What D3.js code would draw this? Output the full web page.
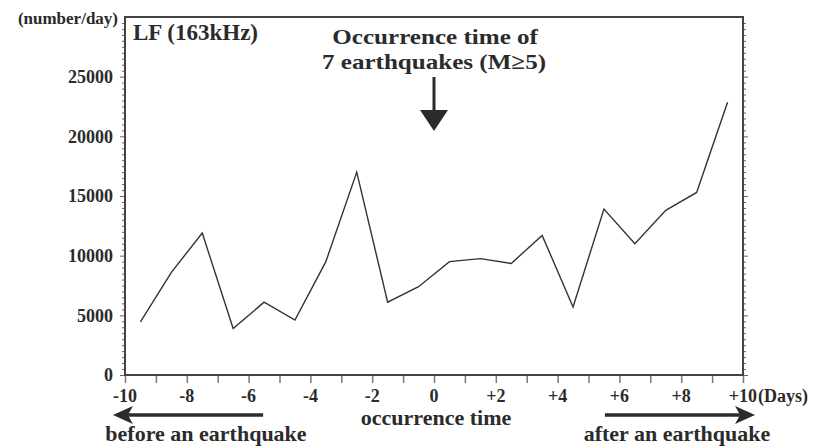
<!DOCTYPE html>
<html>
<head>
<meta charset="utf-8">
<script src="https://cdn.jsdelivr.net/npm/d3@7/dist/d3.min.js"></script>
<style>
  html, body { margin: 0; padding: 0; background: #fff; }
  svg { display: block; }
  text { font-family: "Liberation Serif", "Times New Roman", serif; font-weight: bold; fill: #2b2b2b; }
</style>
</head>
<body>
<svg id="chart" width="814" height="448"></svg>
<script>
// Daily LF (163 kHz) counts around the occurrence time of 7 earthquakes (M>=5)
const days = [-9.5, -8.5, -7.5, -6.5, -5.5, -4.5, -3.5, -2.5, -1.5, -0.5,
               0.5,  1.5,  2.5,  3.5,  4.5,  5.5,  6.5,  7.5,  8.5,  9.5];
const counts = [4450, 8600, 11900, 3900, 6100, 4600, 9500, 17000, 6100, 7400,
                9500, 9750, 9350, 11700, 5700, 13900, 11000, 13800, 15300, 22850];
const xTickValues = [-10, -8, -6, -4, -2, 0, 2, 4, 6, 8, 10];
const xTickLabels = ["-10", "-8", "-6", "-4", "-2", "0", "+2", "+4", "+6", "+8", "+10"];
const yTickValues = [0, 5000, 10000, 15000, 20000, 25000];

const svg = d3.select("#chart");
const plotLeft = 125, plotRight = 743, plotTop = 17, plotBottom = 375;
const axisColor = "#444";
const ink = "#2b2b2b";

const x = d3.scaleLinear().domain([-10, 10]).range([plotLeft, plotRight]);
const y = d3.scaleLinear().domain([0, 30000]).range([plotBottom, plotTop]);

// Bottom axis: a tick each day, labels every two days
const xAxis = d3.axisBottom(x).tickValues(d3.range(-10, 11)).tickSize(8).tickFormat("");
const gx = svg.append("g").attr("transform", `translate(0,${plotBottom})`).call(xAxis);
gx.select(".domain").remove();
gx.selectAll(".tick line").attr("stroke", "#777").attr("stroke-width", 1.5);
svg.append("g").selectAll("text")
  .data(xTickValues)
  .join("text")
  .attr("x", d => x(d))
  .attr("y", 402)
  .attr("text-anchor", "middle")
  .attr("font-size", 18)
  .text((d, i) => xTickLabels[i]);
svg.append("text").attr("x", x(10) + 15).attr("y", 402).attr("font-size", 18).text("(Days)");

// Left and right axes: minor ticks every 500, major every 5000
const minor = d3.range(0, 30001, 500).filter(v => v % 5000 !== 0);
const yLeftMinor = d3.axisLeft(y).tickValues(minor).tickSize(3).tickFormat("");
const yLeftMajor = d3.axisLeft(y).tickValues(yTickValues).tickSize(5).tickFormat("");
const yRightMinor = d3.axisRight(y).tickValues(minor).tickSize(3).tickFormat("");
const yRightMajor = d3.axisRight(y).tickValues(yTickValues).tickSize(5).tickFormat("");
[[yLeftMinor, plotLeft], [yLeftMajor, plotLeft], [yRightMinor, plotRight], [yRightMajor, plotRight]].forEach(([ax, px]) => {
  const g = svg.append("g").attr("transform", `translate(${px},0)`).call(ax);
  g.select(".domain").remove();
  g.selectAll(".tick line").attr("stroke", "#666").attr("stroke-width", 1);
});
svg.append("g").selectAll("text")
  .data(yTickValues)
  .join("text")
  .attr("x", plotLeft - 12)
  .attr("y", d => y(d))
  .attr("dy", "0.35em")
  .attr("text-anchor", "end")
  .attr("font-size", 18)
  .text(d => d);
svg.append("text").attr("x", 118).attr("y", 24).attr("text-anchor", "end")
  .attr("font-size", 17).text("(number/day)");

// Frame
svg.append("rect")
  .attr("x", plotLeft).attr("y", plotTop)
  .attr("width", plotRight - plotLeft).attr("height", plotBottom - plotTop)
  .attr("fill", "none").attr("stroke", axisColor).attr("stroke-width", 2);

// Series line
const line = d3.line().x((d, i) => x(days[i])).y(d => y(d));
svg.append("path")
  .datum(counts)
  .attr("d", line)
  .attr("fill", "none")
  .attr("stroke", "#333")
  .attr("stroke-width", 1.4)
  .attr("stroke-linejoin", "miter");

// Panel label
svg.append("text").attr("x", 133).attr("y", 40).attr("font-size", 23).text("LF (163kHz)");

// Occurrence-time annotation (two lines, slightly widened) with downward arrow at day 0
const note = svg.append("g").attr("transform", `translate(${x(0)},0) scale(1.14,1)`);
note.append("text").attr("x", 1).attr("y", 44).attr("text-anchor", "middle")
  .attr("font-size", 22).text("Occurrence time of");
note.append("text").attr("x", 0).attr("y", 69).attr("text-anchor", "middle")
  .attr("font-size", 22).text("7 earthquakes (M\u22655)");
svg.append("line").attr("x1", x(0)).attr("x2", x(0)).attr("y1", 77).attr("y2", 114)
  .attr("stroke", ink).attr("stroke-width", 3);
svg.append("path")
  .attr("d", `M${x(0) - 14},110 L${x(0) + 14},110 L${x(0)},131 Z`)
  .attr("fill", ink);

// Before / after arrows beneath the axis
const ay = 415;
svg.append("line").attr("x1", x(-5.53)).attr("x2", x(-9.9)).attr("y1", ay).attr("y2", ay)
  .attr("stroke", ink).attr("stroke-width", 3.5);
svg.append("path")
  .attr("d", `M${x(-10.39)},${ay} L${x(-10.39) + 20},${ay - 9} L${x(-10.39) + 15},${ay} L${x(-10.39) + 20},${ay + 9} Z`)
  .attr("fill", ink);
svg.append("line").attr("x1", x(5.53)).attr("x2", x(9.9)).attr("y1", ay).attr("y2", ay)
  .attr("stroke", ink).attr("stroke-width", 3.5);
svg.append("path")
  .attr("d", `M${x(10.39)},${ay} L${x(10.39) - 20},${ay - 9} L${x(10.39) - 15},${ay} L${x(10.39) - 20},${ay + 9} Z`)
  .attr("fill", ink);

svg.append("text").attr("x", x(0) + 2).attr("y", 425).attr("text-anchor", "middle")
  .attr("font-size", 22).text("occurrence time");
svg.append("text").attr("x", 206).attr("y", 441).attr("text-anchor", "middle")
  .attr("font-size", 22).text("before an earthquake");
svg.append("text").attr("x", 677).attr("y", 441).attr("text-anchor", "middle")
  .attr("font-size", 22).text("after an earthquake");
</script>
</body>
</html>
